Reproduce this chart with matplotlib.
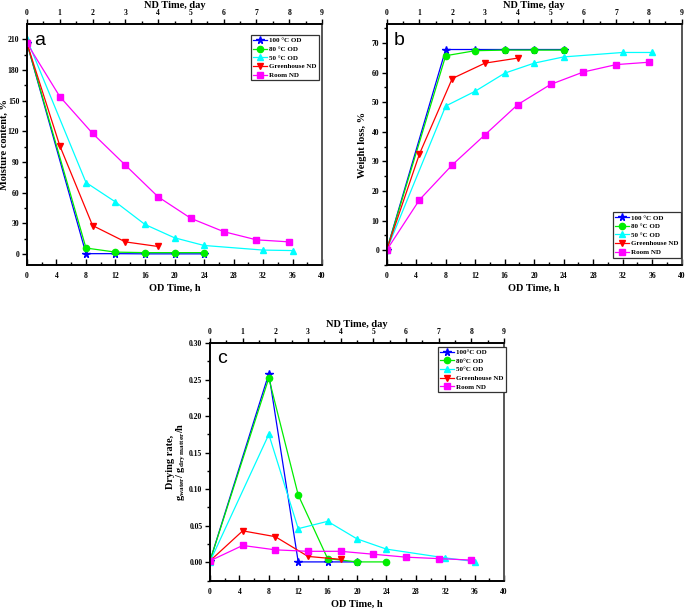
import matplotlib
matplotlib.use("Agg")
import matplotlib.pyplot as plt
from matplotlib.ticker import MultipleLocator

plt.rcParams['font.family'] = ['Liberation Serif', 'DejaVu Serif']
plt.rcParams['font.weight'] = 'bold'
plt.rcParams['mathtext.fontset'] = 'custom'
plt.rcParams['mathtext.rm'] = 'Liberation Serif:bold'
plt.rcParams['mathtext.it'] = 'Liberation Serif:bold:italic'
plt.rcParams['mathtext.bf'] = 'Liberation Serif:bold'

# ---------------- data ----------------
od_h_short = [0, 8, 12, 16, 20, 24]
od_h_long = [0, 8, 12, 16, 20, 24, 32, 36]
gh_days = [0, 1, 2, 3, 4]
room_days = [0, 1, 2, 3, 4, 5, 6, 7, 8]

# (a) moisture content, %
mc_100 = [206, 0.5, 0.5, 0.3, 0.3, 0.3]
mc_80 = [206, 6, 2, 1.5, 1.5, 1.5]
mc_50 = [210, 70, 51, 29, 16, 8.5, 4, 3.5]
mc_gh = [206, 106, 28, 12, 7.5]
mc_room = [206, 154, 118, 87, 56, 35, 22, 14, 12]

# (b) weight loss, %
wl_100 = [0, 67.8, 67.8, 67.8, 67.8, 67.8]
wl_80 = [0, 65.7, 67.4, 67.6, 67.6, 67.6]
wl_50 = [0, 48.7, 53.7, 59.8, 63.2, 65.3, 66.8, 66.8]
wl_gh = [0, 32.5, 58, 63.2, 64.9]
wl_room = [0, 17, 28.8, 39, 49.2, 56, 60.2, 62.7, 63.5]

# (c) drying rate
dr_h_100 = [0, 8, 12, 16, 20]
dr_100 = [0.002, 0.258, 0.0005, 0.0005, 0.0005]
dr_80 = [0.002, 0.252, 0.092, 0.005, 0.0005, 0.0005]
dr_50 = [0.001, 0.175, 0.046, 0.056, 0.032, 0.018, 0.006, 0.001]
dr_gh = [0.002, 0.043, 0.035, 0.008, 0.004]
dr_room = [0.002, 0.023, 0.017, 0.015, 0.015, 0.011, 0.007, 0.005, 0.003]

labels_ab = ['100 °C OD', '80 °C OD', '50 °C OD', 'Greenhouse ND', 'Room ND']
labels_c = ['100°C OD', '80°C OD', '50°C OD', 'Greenhouse ND', 'Room ND']

colors = ['#0000ff', '#00ee00', '#00ffff', '#ff0000', '#ff00ff']
markers = ['*', 'o', '^', 'v', 's']
msizes = [5.5, 4.5, 4.5, 4.5, 4]

fig = plt.figure(figsize=(6.85, 6.09), dpi=100)

TICK_FS = 5.5
LAB_FS = 7.5


def make_panel(rect, od_series, nd_series, labels, ylim, ymajor, ylabel,
               letter, legend_anchor, yfmt=None, ylabel_x=None):
    ax = fig.add_axes(rect)
    ax2 = ax.twiny()
    ax.set_xlim(0, 40)
    ax2.set_xlim(0, 9)
    ax.set_ylim(*ylim)
    handles = []
    i = 0
    for xs, ys in od_series:
        h, = ax.plot(xs, ys, color=colors[i], marker=markers[i], ms=msizes[i],
                     lw=0.9, label=labels[i])
        handles.append(h)
        i += 1
    for xs, ys in nd_series:
        h, = ax2.plot(xs, ys, color=colors[i], marker=markers[i], ms=msizes[i],
                      lw=0.9, label=labels[i])
        handles.append(h)
        i += 1
    ax.xaxis.set_major_locator(MultipleLocator(4))
    ax.xaxis.set_minor_locator(MultipleLocator(2))
    ax.yaxis.set_major_locator(MultipleLocator(ymajor))
    ax.yaxis.set_minor_locator(MultipleLocator(ymajor / 2))
    ax2.xaxis.set_major_locator(MultipleLocator(1))
    ax2.xaxis.set_minor_locator(MultipleLocator(0.5))
    if yfmt:
        ax.yaxis.set_major_formatter(plt.FormatStrFormatter(yfmt))
    ax.tick_params(axis='x', which='both', direction='in', labelsize=TICK_FS,
                   pad=5)
    ax.tick_params(axis='x', which='major', length=4, width=1)
    ax.tick_params(axis='x', which='minor', length=2.5, width=1)
    ax.tick_params(axis='y', which='both', direction='out', labelsize=TICK_FS,
                   pad=2)
    ax.tick_params(axis='y', which='major', length=3.5, width=1)
    ax.tick_params(axis='y', which='minor', length=2, width=1)
    ax2.tick_params(axis='x', which='both', direction='out', labelsize=TICK_FS,
                    pad=1.5)
    ax2.tick_params(axis='x', which='major', length=3.5, width=1)
    ax2.tick_params(axis='x', which='minor', length=2, width=1)
    for a in (ax, ax2):
        for s in a.spines.values():
            s.set_linewidth(1.2)
        a.spines['right'].set_color('#555555')
    ax.set_xlabel('OD Time, h', fontsize=LAB_FS, fontweight='bold', labelpad=3)
    ax2.set_xlabel('ND Time, day', fontsize=LAB_FS, fontweight='bold', labelpad=1)
    ax.set_ylabel(ylabel, fontsize=LAB_FS, fontweight='bold', labelpad=3,
                  linespacing=1.0)
    if ylabel_x is not None:
        ax.yaxis.set_label_coords(ylabel_x, 0.5)
    ax.text(0.025, 0.97, letter, transform=ax.transAxes, fontsize=14,
            family='Liberation Sans', fontweight='normal', va='top', ha='left')
    leg = ax2.legend(handles=handles, loc='upper left',
                     bbox_to_anchor=legend_anchor, fontsize=5, frameon=True,
                     fancybox=False, edgecolor='#333333', framealpha=1,
                     handlelength=2.0, handletextpad=0.3, borderpad=0.35,
                     labelspacing=0.4, borderaxespad=0)
    leg.get_frame().set_linewidth(0.9)
    return ax, ax2


W = 0.4307
H = 0.395
make_panel([0.0394, 0.565, W, H],
           [(od_h_short, mc_100), (od_h_short, mc_80), (od_h_long, mc_50)],
           [(gh_days, mc_gh), (room_days, mc_room)],
           labels_ab, (-10.5, 224.5), 30, 'Moisture content, %', 'a',
           (0.758, 0.955), ylabel_x=-0.062)

make_panel([0.5645, 0.565, W, H],
           [(od_h_short, wl_100), (od_h_short, wl_80), (od_h_long, wl_50)],
           [(gh_days, wl_gh), (room_days, wl_room)],
           labels_ab, (-5, 76.3), 10, 'Weight loss, %', 'b',
           (0.767, 0.219))

make_panel([0.3066, 0.046, 0.4292, 0.3908],
           [(dr_h_100, dr_100), (od_h_short, dr_80), (od_h_long, dr_50)],
           [(gh_days, dr_gh), (room_days, dr_room)],
           labels_c, (-0.0256, 0.30), 0.05,
           'Drying rate,\n' + r'g$_{\rm water}$/ g$_{\rm dry\ matter}$/h', 'c',
           (0.774, 0.984), yfmt='%.2f', ylabel_x=-0.075)

fig.savefig('out.png', dpi=100)
